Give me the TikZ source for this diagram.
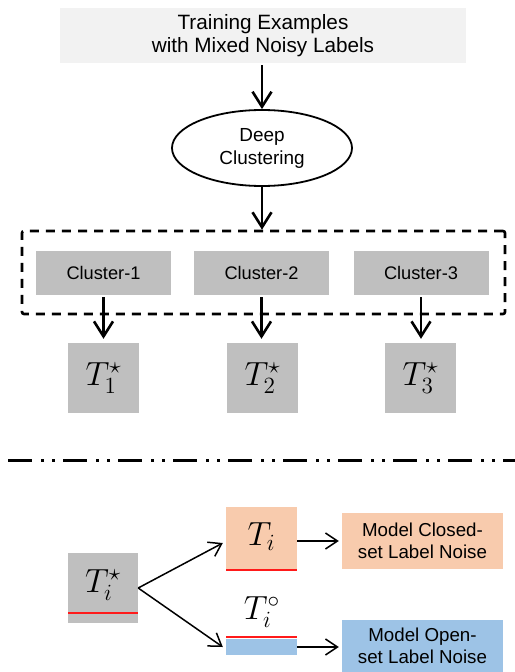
\documentclass[tikz,border=0pt]{standalone}
\usepackage[no-math]{fontspec}
\setmainfont{Liberation Sans}
\usetikzlibrary{arrows.meta,shapes.geometric,calc}
\definecolor{lgray}{HTML}{F2F2F2}
\definecolor{mgray}{HTML}{BFBFBF}
\definecolor{orng}{HTML}{F8CBAD}
\definecolor{lblue}{HTML}{9DC3E6}
\definecolor{redmark}{HTML}{FF1A1A}
\begin{document}
\begin{tikzpicture}[x=1bp,y=-1bp,
  thickarrow/.style={line width=2.6bp,-{Straight Barb[length=15bp,width=19bp]}},
  thinarrow/.style={line width=1.5bp,-{Straight Barb[length=12bp,width=16bp]}},
  clus/.style={fill=mgray,minimum width=135bp,minimum height=44bp,inner sep=0pt,font=\fontsize{18.3}{22}\selectfont},
  tbox/.style={fill=mgray,minimum width=71bp,minimum height=70bp,inner sep=0pt},
  mathlbl/.style={inner sep=0pt,scale=1.62,transform shape,font=\fontsize{20.74}{24}\selectfont},
  modelbox/.style={minimum width=161bp,inner sep=0pt,align=center,font=\fontsize{18.8}{22.5}\selectfont},
  redbar/.style={fill=redmark}]
\useasboundingbox (0,0) rectangle (515,672);

% top part
\node[fill=lgray,minimum width=406bp,minimum height=55bp,inner sep=0pt,align=center,
      font=\fontsize{20.8}{23.5}\selectfont] (top) at (263,35.5) {Training Examples\\with Mixed Noisy Labels};
\node[ellipse,draw,line width=1.8bp,minimum width=180bp,minimum height=76bp,inner sep=0pt,align=center,
      font=\fontsize{19}{23}\selectfont] (dc) at (262,148) {Deep\\Clustering};
\node[draw,line width=2.6bp,dash pattern=on 9bp off 7bp,rounded corners=2bp,
      minimum width=483bp,minimum height=83bp,inner sep=0pt] (grp) at (263.5,272.5) {};

\node[clus] (c1) at (103.5,273) {Cluster-1};
\node[clus] (c2) at (261.5,273) {Cluster-2};
\node[clus] (c3) at (421,273) {Cluster-3};

\node[tbox] (t1) at (103.5,378) {};
\node[tbox] (t2) at (262.5,378) {};
\node[tbox] (t3) at (420.5,378) {};
\node[mathlbl] (m1) at (t1) {$T_1^\star$};
\node[mathlbl] (m2) at (t2) {$T_2^\star$};
\node[mathlbl] (m3) at (t3) {$T_3^\star$};

\draw[thickarrow,shorten <=2bp] (dc.north |- top.south) -- (dc.north);
\draw[thickarrow] (dc.south) -- (dc.south |- grp.north);
\draw[thickarrow,shorten <=2bp,shorten >=4bp] (c1.south) -- (c1.south |- t1.north);
\draw[thickarrow,shorten <=2bp,shorten >=4bp] (c2.south) -- (c2.south |- t2.north);
\draw[thickarrow,shorten <=2bp,shorten >=4bp] (c3.south) -- (c3.south |- t3.north);

% separator
\draw[line width=3bp,dash pattern=on 24bp off 9bp on 3bp off 8bp on 3bp off 8bp] (8,460) -- (515,460);

% bottom part
\node[fill=mgray,minimum width=70bp,minimum height=70bp,inner sep=0pt] (ts) at (103,588) {};
\node[mathlbl] (ms) at ([yshift=3bp]ts.center) {$T_i^\star$};
\node[fill=orng,minimum width=71bp,minimum height=63bp,inner sep=0pt] (ti) at (261.5,538.5) {};
\node[mathlbl] (mi) at ([yshift=2bp]ti.center) {$T_i$};
\node[mathlbl] (tc) at (262,612) {$T_i^\circ$};
\node[fill=lblue,minimum width=71bp,minimum height=16bp,inner sep=0pt] (bl) at (261.5,647) {};

\node[modelbox,fill=orng,minimum height=56bp] (cl) at (422.5,541) {Model Closed-\\set Label Noise};
\node[modelbox,fill=lblue,minimum height=52bp] (op) at (422.5,646) {Model Open-\\set Label Noise};

\fill[redbar] ([yshift=-24.3bp]ts.west) rectangle ([yshift=-25.7bp]ts.east);
\fill[redbar] ([yshift=-0.3bp]ti.south west) rectangle ([yshift=1.3bp]ti.south east);
\fill[redbar] ([yshift=1bp]bl.north west) rectangle ([yshift=2.5bp]bl.north east);

\draw[thinarrow] (ts.east) -- ([xshift=-3bp,yshift=-4.5bp]ti.west);
\draw[thinarrow] (ts.east) -- ([xshift=-3bp]bl.west);
\draw[thinarrow,shorten >=3bp] (ti.east |- cl.west) -- (cl.west);
\draw[thinarrow,shorten >=3bp] (bl.east) -- (bl.east -| op.west);
\end{tikzpicture}
\end{document}
